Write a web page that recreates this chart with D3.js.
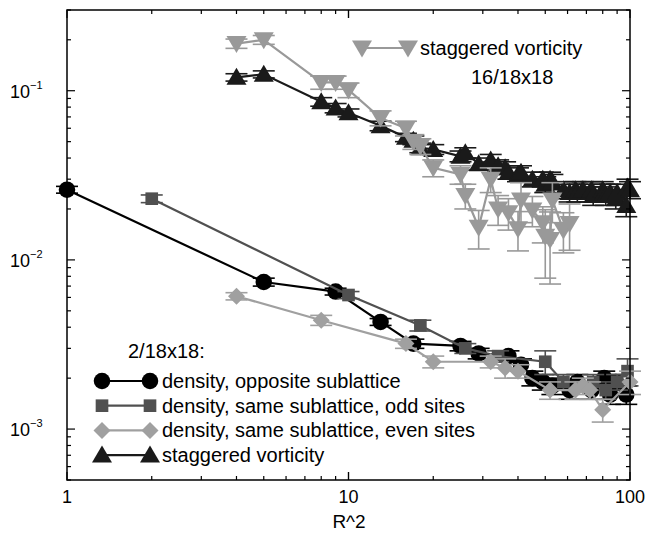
<!DOCTYPE html>
<html>
<head>
<meta charset="utf-8">
<script src="https://cdn.jsdelivr.net/npm/d3@7"></script>
<style>
  body { margin: 0; background: #fff; }
  svg { font-family: "Liberation Sans", Arial, Helvetica, sans-serif; }
</style>
</head>
<body>
<div id="chart"></div>
<script>
// density, opposite sublattice (2/18x18)
const oppR2 = [1, 5, 9, 13, 17, 25, 29, 37, 41, 45, 49, 53, 61, 65, 73, 81, 85, 89, 97]
const oppVal = [0.026, 0.0074, 0.0065, 0.0043, 0.0032, 0.0031, 0.0028, 0.0027, 0.0024, 0.0020, 0.0019, 0.0018, 0.0017, 0.0019, 0.0017, 0.0020, 0.0016, 0.0019, 0.0016]
const oppErr = [0.0012, 0.0004, 0.0003, 0.0002, 0.0002, 0.0002, 0.0002, 0.0002, 0.0002, 0.0002, 0.0002, 0.0002, 0.0002, 0.0002, 0.0002, 0.0002, 0.0002, 0.0002, 0.0002]

// density, same sublattice, odd sites
const oddR2 = [2, 10, 18, 26, 34, 50, 58, 74, 82, 90, 98]
const oddVal = [0.023, 0.0062, 0.0041, 0.0030, 0.0027, 0.0025, 0.0019, 0.0019, 0.0017, 0.0019, 0.0022]
const oddErr = [0.0012, 0.0003, 0.0003, 0.0002, 0.0002, 0.0004, 0.0002, 0.0002, 0.0002, 0.0002, 0.0004]

// density, same sublattice, even sites
const evenR2 = [4, 8, 16, 20, 32, 36, 40, 52, 64, 68, 72, 80, 100]
const evenVal = [0.0061, 0.0044, 0.0032, 0.0025, 0.0025, 0.0023, 0.0022, 0.0017, 0.0017, 0.0018, 0.0017, 0.0013, 0.0019]
const evenErr = [0.0003, 0.0003, 0.0002, 0.0002, 0.0002, 0.0003, 0.0002, 0.0002, 0.0002, 0.0002, 0.0002, 0.0002, 0.0003]

// staggered vorticity (2/18x18)
const vortR2 = [4, 5, 8, 9, 10, 13, 16, 17, 18, 20, 25, 26, 29, 32, 34, 36, 37, 40, 41, 45, 49, 50, 52, 53, 58, 61, 64, 65, 68, 72, 73, 74, 80, 81, 82, 85, 89, 90, 97, 98, 100]
const vortVal = [0.12, 0.125, 0.086, 0.079, 0.074, 0.062, 0.053, 0.051, 0.046, 0.045, 0.041, 0.043, 0.037, 0.039, 0.036, 0.035, 0.033, 0.032, 0.033, 0.030, 0.030, 0.028, 0.030, 0.029, 0.026, 0.025, 0.026, 0.025, 0.026, 0.025, 0.026, 0.024, 0.026, 0.025, 0.024, 0.025, 0.023, 0.025, 0.021, 0.027, 0.026]
const vortErr = [0.006, 0.006, 0.005, 0.005, 0.004, 0.004, 0.003, 0.003, 0.003, 0.003, 0.003, 0.003, 0.003, 0.003, 0.003, 0.003, 0.003, 0.003, 0.003, 0.003, 0.003, 0.003, 0.003, 0.003, 0.003, 0.003, 0.003, 0.003, 0.003, 0.003, 0.003, 0.003, 0.003, 0.003, 0.003, 0.003, 0.003, 0.003, 0.003, 0.003, 0.003]

// staggered vorticity (16/18x18)
const vort16R2 = [4, 5, 8, 9, 10, 13, 16, 17, 18, 20, 25, 26, 29, 32, 34, 37, 40, 41, 45, 49, 50, 52, 53, 58, 61]
const vort16Val = [0.19, 0.20, 0.112, 0.112, 0.101, 0.069, 0.060, 0.050, 0.047, 0.035, 0.032, 0.024, 0.0156, 0.030, 0.020, 0.019, 0.0153, 0.0226, 0.0197, 0.0166, 0.0138, 0.0132, 0.0226, 0.015, 0.0164]
const vort16Err = [0.012, 0.012, 0.010, 0.010, 0.010, 0.007, 0.006, 0.005, 0.005, 0.004, 0.004, 0.004, 0.004, 0.005, 0.004, 0.004, 0.004, 0.006, 0.004, 0.004, 0.006, 0.006, 0.006, 0.004, 0.005]

const xTicks = [1, 10, 100]
const xTickLabels = ["1", "10", "100"]
const yTicks = [0.001, 0.01, 0.1]
const yTickExp = ["−3", "−2", "−1"]

const width = 647
const height = 533
const mLeft = 67, mRight = 630, mTop = 10, mBottom = 480

const x = d3.scaleLog().domain([1, 100]).range([mLeft, mRight])
const y = d3.scaleLog().domain([5e-4, 0.3]).range([mBottom, mTop])

const svg = d3.select("#chart")
  .append("svg")
  .attr("width", width)
  .attr("height", height)

// marker shapes
function shapePath(kind) {
  if (kind === "circle") return d3.symbol().type(d3.symbolCircle).size(215)()
  if (kind === "square") return d3.symbol().type(d3.symbolSquare).size(160)()
  if (kind === "diamond") return "M0,-8.5L8.5,0L0,8.5L-8.5,0Z"
  if (kind === "up") return "M0,-9.5L10,7.5L-10,7.5Z"
  if (kind === "down") return "M0,9.5L10,-7.5L-10,-7.5Z"
}

const series = [
  { r2: oppR2, val: oppVal, err: oppErr, color: "#000000", shape: "circle" },
  { r2: oddR2, val: oddVal, err: oddErr, color: "#505050", shape: "square" },
  { r2: evenR2, val: evenVal, err: evenErr, color: "#a0a0a0", shape: "diamond" },
  { r2: vortR2, val: vortVal, err: vortErr, color: "#1a1a1a", shape: "up" },
  { r2: vort16R2, val: vort16Val, err: vort16Err, color: "#999999", shape: "down" }
]

const line = d3.line().x(d => x(d.r2)).y(d => y(d.v))

series.forEach(s => {
  const pts = s.r2.map((r, i) => ({ r2: r, v: s.val[i], e: s.err[i] }))
  const g = svg.append("g")
  const cap = 11

  // error bars
  const eb = g.append("g").attr("stroke", s.color).attr("stroke-width", 1.6)
  pts.forEach(p => {
    const px = x(p.r2)
    const y1 = y(p.v + p.e), y2 = y(Math.max(p.v - p.e, 1e-5))
    eb.append("line").attr("x1", px).attr("x2", px).attr("y1", y1).attr("y2", y2)
    eb.append("line").attr("x1", px - cap).attr("x2", px + cap).attr("y1", y1).attr("y2", y1)
    eb.append("line").attr("x1", px - cap).attr("x2", px + cap).attr("y1", y2).attr("y2", y2)
  })

  g.append("path")
    .datum(pts)
    .attr("fill", "none")
    .attr("stroke", s.color)
    .attr("stroke-width", 2.2)
    .attr("d", line)

  g.selectAll(".pt")
    .data(pts)
    .enter().append("path")
    .attr("transform", d => "translate(" + x(d.r2) + "," + y(d.v) + ")")
    .attr("d", shapePath(s.shape))
    .attr("fill", s.color)
})

// frame
svg.append("rect")
  .attr("x", mLeft).attr("y", mTop)
  .attr("width", mRight - mLeft).attr("height", mBottom - mTop)
  .attr("fill", "none").attr("stroke", "#000").attr("stroke-width", 1.5)

// ticks on all sides
const ticks = svg.append("g").attr("stroke", "#000").attr("stroke-width", 1.2)
for (let dec = 1; dec < 100; dec *= 10) {
  for (let m = 1; m <= 10; m++) {
    const px = x(dec * m)
    const len = (m === 1 || m === 10) ? 8 : 4
    ticks.append("line").attr("x1", px).attr("x2", px).attr("y1", mBottom).attr("y2", mBottom - len)
    ticks.append("line").attr("x1", px).attr("x2", px).attr("y1", mTop).attr("y2", mTop + len)
  }
}
for (let dec = 1e-4; dec < 1; dec *= 10) {
  for (let m = 1; m < 10; m++) {
    const v = dec * m
    if (v < 5e-4 * 0.999 || v > 0.3 * 1.001) continue
    const py = y(v)
    const len = m === 1 ? 8 : 4
    ticks.append("line").attr("x1", mLeft).attr("x2", mLeft + len).attr("y1", py).attr("y2", py)
    ticks.append("line").attr("x1", mRight).attr("x2", mRight - len).attr("y1", py).attr("y2", py)
  }
}

// x tick labels
svg.append("g").selectAll("text")
  .data(xTicks)
  .enter().append("text")
  .attr("x", d => x(d))
  .attr("y", 503)
  .attr("text-anchor", "middle")
  .attr("font-size", 18)
  .text((d, i) => xTickLabels[i])

// y tick labels
yTicks.forEach((v, i) => {
  const t = svg.append("text")
    .attr("x", 10)
    .attr("y", y(v) + 7)
    .attr("font-size", 18)
  t.append("tspan").text("10")
  t.append("tspan").attr("font-size", 11).attr("dy", -9).text(yTickExp[i])
})

svg.append("text")
  .attr("x", 349).attr("y", 528)
  .attr("text-anchor", "middle")
  .attr("font-size", 19)
  .text("R^2")

// legend, lower left
const legendItems = [
  { label: "density, opposite sublattice", s: series[0] },
  { label: "density, same sublattice, odd sites", s: series[1] },
  { label: "density, same sublattice, even sites", s: series[2] },
  { label: "staggered vorticity", s: series[3] }
]
svg.append("text").attr("x", 128).attr("y", 358).attr("font-size", 20).text("2/18x18:")
legendItems.forEach((it, i) => {
  const cy = 381 + i * 24.7
  svg.append("line").attr("x1", 102).attr("x2", 150).attr("y1", cy).attr("y2", cy)
    .attr("stroke", it.s.color).attr("stroke-width", 2.2)
  ;[102, 150].forEach(cx => {
    svg.append("path").attr("transform", "translate(" + cx + "," + cy + ")")
      .attr("d", shapePath(it.s.shape)).attr("fill", it.s.color)
  })
  svg.append("text").attr("x", 162).attr("y", cy + 7).attr("font-size", 20).text(it.label)
})

// legend, top right
const topCy = 48
svg.append("line").attr("x1", 362).attr("x2", 408).attr("y1", topCy).attr("y2", topCy)
  .attr("stroke", series[4].color).attr("stroke-width", 2.2)
;[362, 408].forEach(cx => {
  svg.append("path").attr("transform", "translate(" + cx + "," + topCy + ")")
    .attr("d", shapePath("down")).attr("fill", series[4].color)
})
svg.append("text").attr("x", 420).attr("y", topCy + 7).attr("font-size", 20).text("staggered vorticity")
svg.append("text").attr("x", 471).attr("y", 84).attr("font-size", 20).text("16/18x18")
</script>
</body>
</html>
